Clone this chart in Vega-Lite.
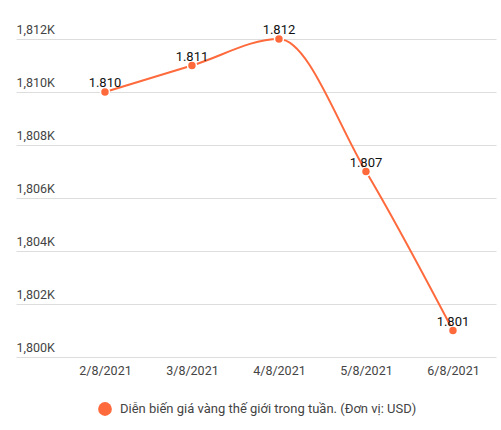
{
  "$schema": "https://vega.github.io/schema/vega-lite/v6.json",
  "autosize": "none",
  "width": 480,
  "height": 318,
  "padding": {"left": 16, "top": 39, "right": 5, "bottom": 73},
  "background": "white",
  "data": {
    "values": [
      {"date": "2/8/2021", "price": 1810, "series": "Diễn biến giá vàng thế giới trong tuần. (Đơn vị: USD)"},
      {"date": "3/8/2021", "price": 1811, "series": "Diễn biến giá vàng thế giới trong tuần. (Đơn vị: USD)"},
      {"date": "4/8/2021", "price": 1812, "series": "Diễn biến giá vàng thế giới trong tuần. (Đơn vị: USD)"},
      {"date": "5/8/2021", "price": 1807, "series": "Diễn biến giá vàng thế giới trong tuần. (Đơn vị: USD)"},
      {"date": "6/8/2021", "price": 1801, "series": "Diễn biến giá vàng thế giới trong tuần. (Đơn vị: USD)"}
    ]
  },
  "encoding": {
    "x": {
      "field": "date",
      "type": "ordinal",
      "sort": null,
      "title": null,
      "scale": {"type": "point", "padding": 0.7586, "align": 0.674},
      "axis": {"labelAngle": 0, "domain": false, "ticks": false, "grid": false, "labelPadding": 7, "labelFontSize": 12.5, "labelColor": "#444"}
    },
    "y": {
      "field": "price",
      "type": "quantitative",
      "title": null,
      "scale": {"domain": [1800, 1812], "nice": false, "zero": false},
      "axis": {
        "values": [1800, 1802, 1804, 1806, 1808, 1810, 1812],
        "labelExpr": "format(datum.value, ',') + 'K'",
        "domain": false,
        "ticks": false,
        "labelAlign": "left",
        "labelBaseline": "bottom",
        "labelPadding": 0,
        "labelOffset": -3,
        "labelFontSize": 12.5,
        "labelColor": "#444",
        "gridColor": "#dddddd"
      }
    }
  },
  "layer": [
    {
      "mark": {"type": "line", "interpolate": "monotone", "strokeWidth": 2},
      "encoding": {
        "color": {
          "field": "series",
          "type": "nominal",
          "title": null,
          "scale": {"range": ["#ff6a3d"]},
          "legend": {
            "orient": "none",
            "legendX": 82,
            "legendY": 363,
            "symbolType": "circle",
            "symbolSize": 190,
            "symbolFillColor": "#ff6a3d",
            "symbolStrokeWidth": 0,
            "labelFontSize": 13,
            "labelColor": "#444",
            "labelLimit": 400,
            "labelOffset": 8
          }
        }
      }
    },
    {
      "mark": {"type": "point", "filled": true, "size": 80, "color": "#ff6a3d", "stroke": "white", "strokeWidth": 1.5, "opacity": 1}
    },
    {
      "transform": [{"calculate": "replace(format(datum.price, ','), ',', '.')", "as": "label"}],
      "mark": {"type": "text", "dy": -9, "fontSize": 13, "color": "#111"},
      "encoding": {"text": {"field": "label"}}
    }
  ],
  "config": {
    "font": "Roboto",
    "view": {"stroke": null}
  }
}
